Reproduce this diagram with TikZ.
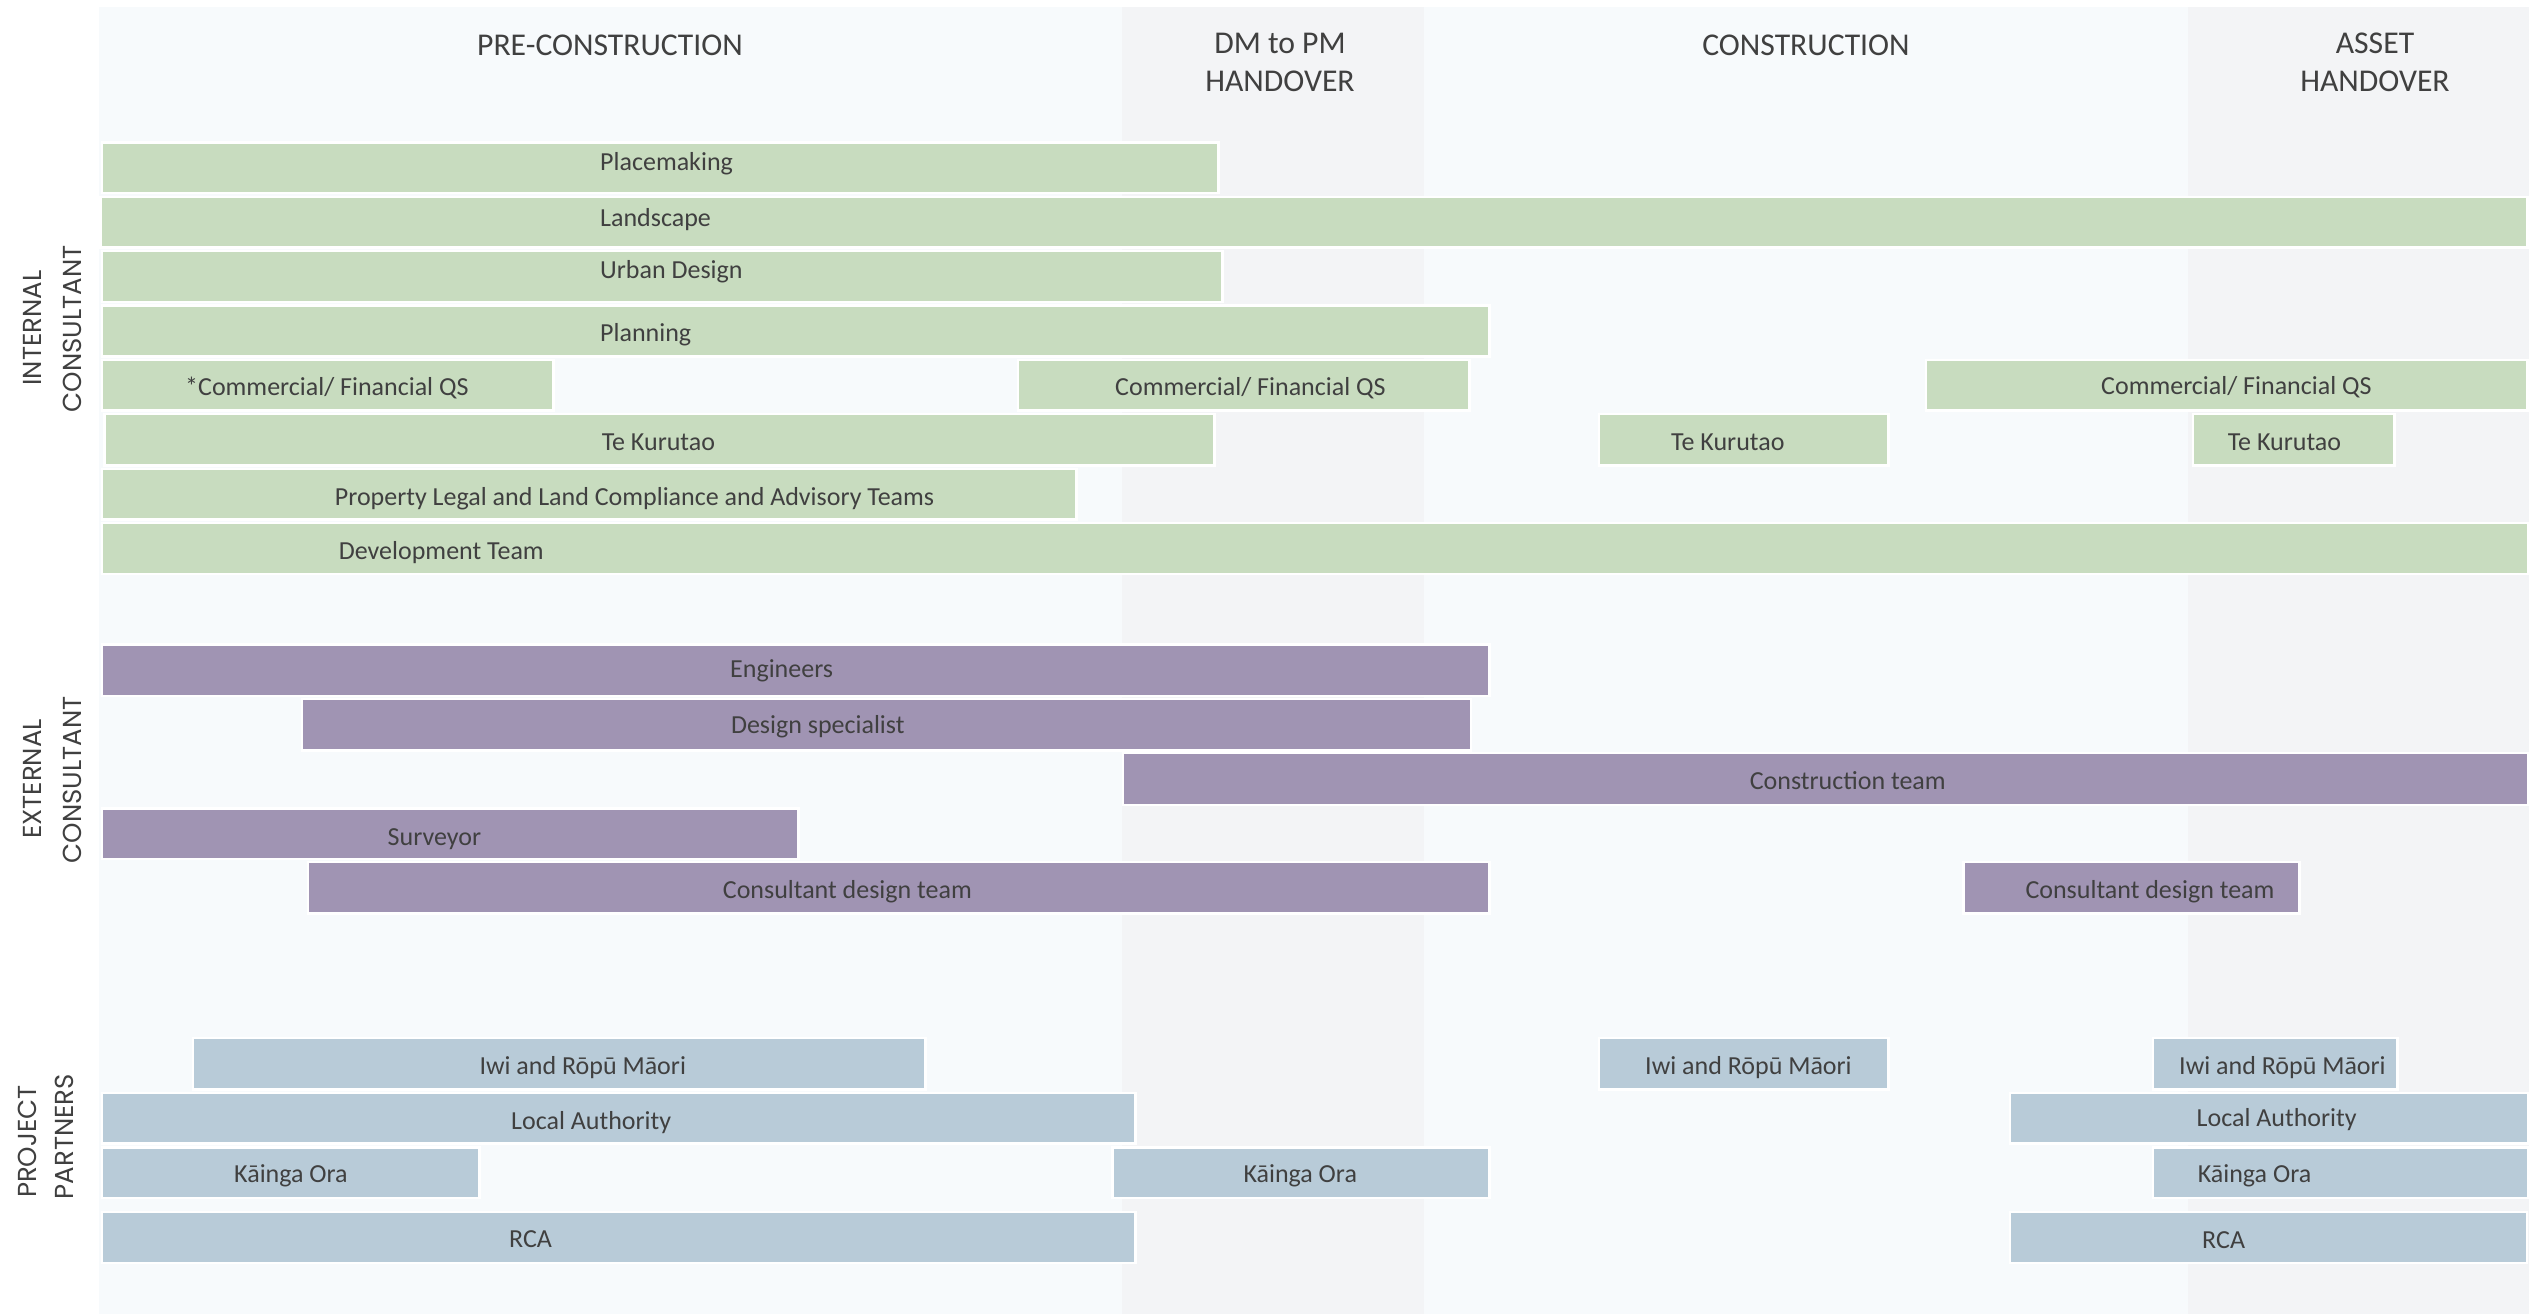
\documentclass[tikz,border=0pt]{standalone}
\usepackage{fontspec}
\setmainfont{Carlito}
\newfontfamily\sidefont{Poppins}
\definecolor{panelbg}{HTML}{F7FAFC}
\definecolor{colgray}{HTML}{F3F4F6}
\definecolor{gfill}{HTML}{C8DCBF}
\definecolor{pfill}{HTML}{A094B3}
\definecolor{bfill}{HTML}{B8CBD8}
\definecolor{txt}{HTML}{404040}
\tikzset{
  barbase/.style={draw=white, line width=2.5pt, inner sep=0pt, outer sep=0pt, rectangle},
  gbar/.style={barbase, fill=gfill},
  pbar/.style={barbase, fill=pfill},
  bbar/.style={barbase, fill=bfill},
  lbl/.style={inner sep=0pt, text=txt, font=\fontsize{26}{30}\selectfont},
  hdr/.style={inner sep=0pt, text=txt, font=\fontsize{31.7}{36}\selectfont},
  side/.style={inner sep=0pt, text=txt, rotate=90, anchor=base, font=\sidefont\fontsize{26}{30}\selectfont},
}
% name, style, x1, x2, y1, y2, label x, text, label dy
\newcommand\mkbar[9]{%
  \node[#2, minimum width={#4-#3+2.5}, minimum height={#6-#5+2.5}] (#1) at ({(#3+#4)/2},{(#5+#6)/2}) {};
  \node[lbl, anchor=base west] (#1-t) at (#7,{(#5+#6)/2+#9}) {#8};}
\begin{document}
\begin{tikzpicture}[x=1pt,y=-1pt]
\useasboundingbox (0,0) rectangle (2539,1314);
\fill[white] (0,0) rectangle (2539,1314);
\fill[panelbg] (99,7) rectangle (2529,1314);
\fill[colgray] (1121.5,7) rectangle (1423.5,1314);
\fill[colgray] (2188,7) rectangle (2529,1314);

% headers
\node[hdr, anchor=base] (h-pre) at (610,55.5) {PRE-CONSTRUCTION};
\node[hdr, anchor=base] (h-dm1) at (1280,53.6) {DM to PM};
\node[hdr, anchor=base] (h-dm2) at (1280,91.8) {HANDOVER};
\node[hdr, anchor=base] (h-con) at (1806,55.5) {CONSTRUCTION};
\node[hdr, anchor=base] (h-as1) at (2375,53.6) {ASSET};
\node[hdr, anchor=base] (h-as2) at (2375,91.8) {HANDOVER};

% side labels
\node[side] (s-int1) at (41.7,328) {INTERNAL};
\node[side] (s-int2) at (81.7,328.7) {CONSULTANT};
\node[side] (s-ext1) at (41,779) {EXTERNAL};
\node[side] (s-ext2) at (81.5,780) {CONSULTANT};
\node[side] (s-pro1) at (36.7,1141.7) {PROJECT};
\node[side] (s-pro2) at (73.3,1136.7) {PARTNERS};

% internal consultant
\mkbar{placemaking}{gbar}{103}{1217}{143.5}{191.5}{600}{Placemaking}{2.8}
\mkbar{landscape}{gbar}{101.5}{2526}{198}{246}{600}{Landscape}{4.6}
\mkbar{urban}{gbar}{103}{1221}{252}{300.5}{600}{Urban Design}{2.4}
\mkbar{planning}{gbar}{103}{1488}{306.5}{355}{600}{Planning}{11}
\mkbar{qsa}{gbar}{103}{552}{361}{409}{185}{*Commercial/ Financial QS}{10.3}
\mkbar{qsb}{gbar}{1019}{1468}{361}{409}{1115}{Commercial/ Financial QS}{10.3}
\mkbar{qsc}{gbar}{1927}{2526}{361}{409}{2101}{Commercial/ Financial QS}{9}
\mkbar{tka}{gbar}{105.5}{1213}{415}{464}{601.6}{Te Kurutao}{10.9}
\mkbar{tkb}{gbar}{1600}{1887}{415}{464}{1671}{Te Kurutao}{10.9}
\mkbar{tkc}{gbar}{2194}{2393}{415}{464}{2227.6}{Te Kurutao}{10.9}
\mkbar{property}{gbar}{103}{1075}{470}{518}{334.7}{Property Legal and Land Compliance and Advisory Teams}{11.2}
\mkbar{devteam}{gbar}{103}{2527}{524}{572.5}{338.7}{Development Team}{11.2}

% external consultant
\mkbar{engineers}{pbar}{103}{1488.4}{645.5}{694.7}{730}{Engineers}{7.3}
\mkbar{designspec}{pbar}{303}{1469.5}{700}{749}{730.8}{Design specialist}{8.5}
\mkbar{constteam}{pbar}{1124}{2527}{754}{803.5}{1749.6}{Construction team}{10.7}
\mkbar{surveyor}{pbar}{103}{797.4}{809.5}{857.7}{387.5}{Surveyor}{12.3}
\mkbar{cdta}{pbar}{309.4}{1488.4}{863}{912.4}{722.7}{Consultant design team}{11}
\mkbar{cdtb}{pbar}{1964.8}{2298.2}{863}{912.4}{2025.3}{Consultant design team}{11}

% project partners
\mkbar{iwia}{bbar}{194}{924}{1039.4}{1088}{479.3}{Iwi and Rōpū Māori}{10.8}
\mkbar{iwib}{bbar}{1600.3}{1887.3}{1039.4}{1088}{1645}{Iwi and Rōpū Māori}{10.8}
\mkbar{iwic}{bbar}{2154.2}{2396}{1039.4}{1088}{2179}{Iwi and Rōpū Māori}{10.8}
\mkbar{laa}{bbar}{103.3}{1134.2}{1094}{1142.4}{511}{Local Authority}{11.4}
\mkbar{lab}{bbar}{2011}{2527}{1094}{1142.4}{2196.5}{Local Authority}{7.8}
\mkbar{koa}{bbar}{103.3}{478.2}{1148.7}{1196.5}{234}{Kāinga Ora}{10.3}
\mkbar{kob}{bbar}{1113.6}{1488.4}{1148.7}{1196.5}{1243.3}{Kāinga Ora}{10.3}
\mkbar{koc}{bbar}{2154.2}{2527}{1148.7}{1196.5}{2197.6}{Kāinga Ora}{10.3}
\mkbar{rcaa}{bbar}{103.3}{1134.2}{1213.4}{1261.7}{509}{RCA}{10}
\mkbar{rcab}{bbar}{2011}{2525.6}{1213.4}{1261.7}{2202}{RCA}{11}
\end{tikzpicture}
\end{document}
